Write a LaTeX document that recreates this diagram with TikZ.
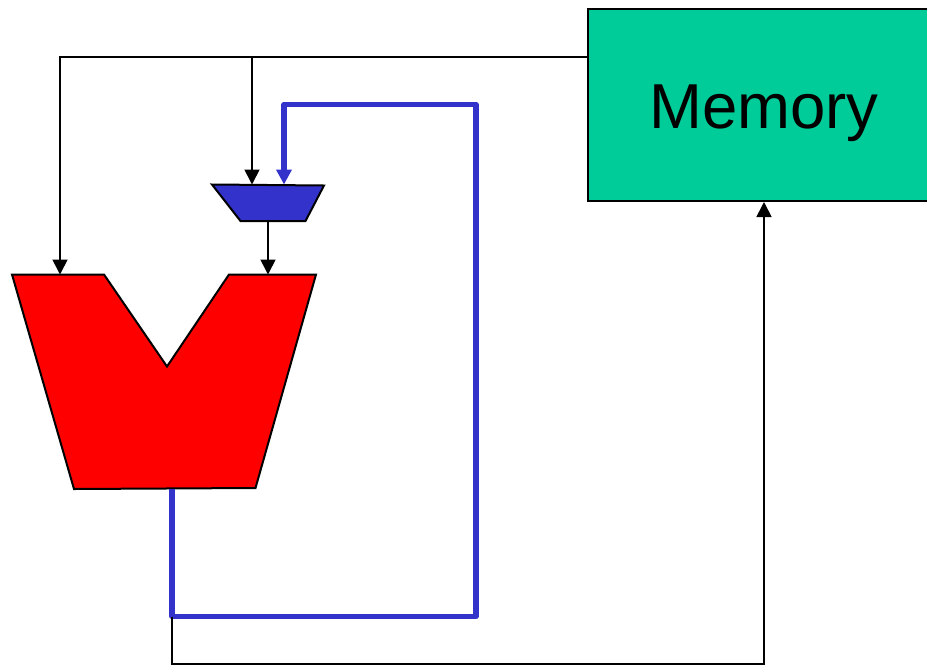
\documentclass[tikz,border=0pt]{standalone}
\usepackage{fontspec}
\setmainfont{Liberation Sans}
\usetikzlibrary{arrows.meta}
\definecolor{memgreen}{RGB}{0,204,153}
\definecolor{qblue}{RGB}{51,51,204}
\tikzset{
  wire/.style={draw=black, line width=1.7pt, -{Triangle[width=15pt,length=15pt]}},
  buswire/.style={draw=qblue, line width=5.5pt, line join=round},
  block/.style={draw=black, line width=2pt, line join=miter}
}
\begin{document}
\begin{tikzpicture}[x=1pt,y=-1pt]%
  \useasboundingbox (0,0) rectangle (927,665);
  \clip (0,0) rectangle (927,665);
  %ports
  \coordinate (aluL) at (60,274.5);
  \coordinate (aluR) at (268,274.5);
  \coordinate (aluOut) at (172,489);
  \coordinate (muxL) at (252,184.5);
  \coordinate (muxR) at (284,184.5);
  \coordinate (muxOut) at (268,221);
  \coordinate (busJoin) at (172,616.5);
  \coordinate (busUp) at (476,616.5);
  \coordinate (busTop) at (476,104.5);
  \coordinate (memBot) at (764,664);
  \coordinate (memTap) at (252,57);

  \node[block, fill=memgreen, minimum width=352pt, minimum height=192pt, inner sep=0pt,
        text height=46pt, text depth=0pt,
        font=\fontsize{63.5}{63.5}\selectfont] (mem) at (764,105) {Memory};

  \fill[color=red] (12,274.5) -- (104,274.5) -- (167,366.5) -- (229,274.5) -- (316,274.5) -- (255.5,488) -- (74,489) -- cycle;
  \draw[block] (12,274.5) -- (104,274.5) -- (167,366.5) -- (229,274.5) -- (316,274.5) -- (255.5,488) -- (74,489) -- cycle;
  \draw[block, fill=qblue] (212,184.5) -- (324,185.5) -- (305.5,221) -- (240.5,221) -- cycle;

  \draw[buswire, -{Triangle[width=15pt,length=15pt]}] (aluOut) -- (busJoin) -- (busUp) -- (busTop) -- (muxR |- busTop) -- (muxR);

  \draw[wire] (mem.west |- memTap) -- (memTap -| aluL) -- (aluL);
  \draw[wire] (memTap) -- (muxL);
  \draw[wire] (muxOut) -- (aluR);
  \draw[wire] (busJoin) -- (busJoin |- memBot) -- (memBot) -- (mem.south);
\end{tikzpicture}
\end{document}
